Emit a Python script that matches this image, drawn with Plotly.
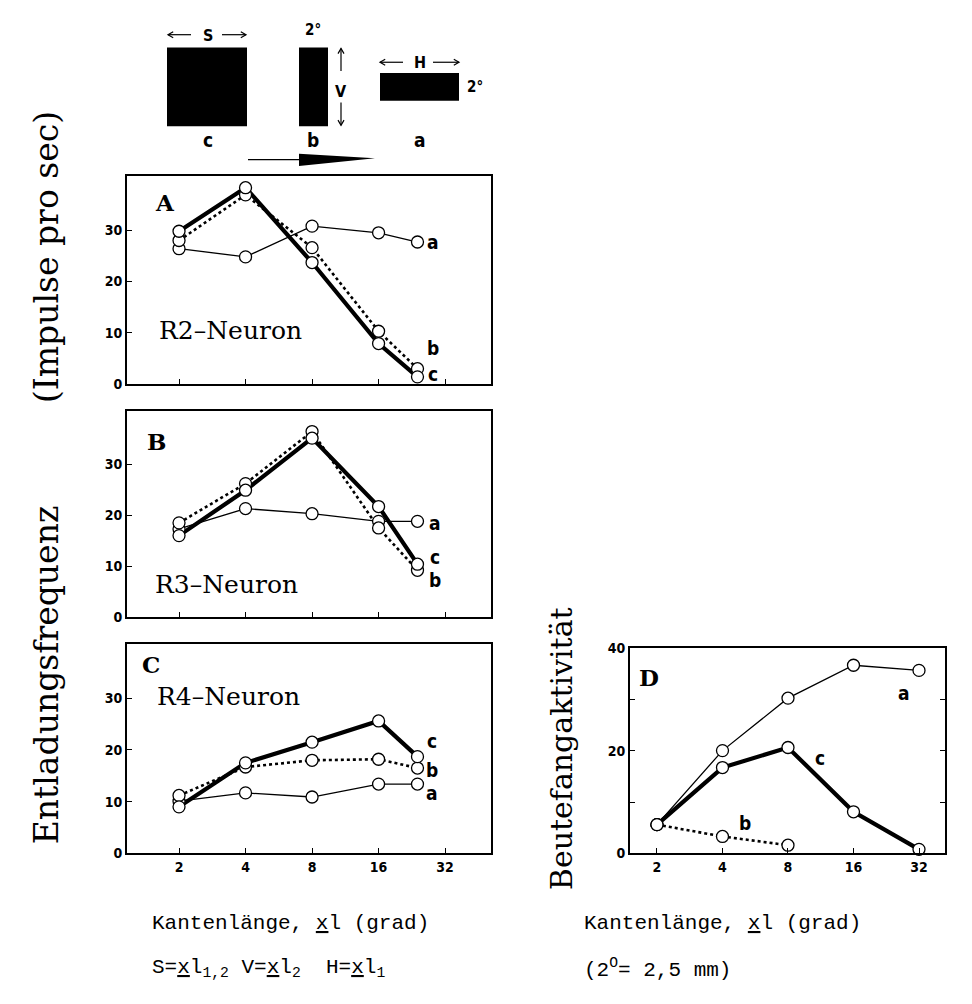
import math
import plotly.graph_objects as go

# ---------------- data ----------------
x_neuron = [2, 4, 8, 16, 24]
A_a = [26.4, 24.8, 30.8, 29.5, 27.7]
A_b = [28.0, 36.9, 26.6, 10.3, 3.0]
A_c = [29.8, 38.3, 23.7, 7.9, 1.4]

B_a = [17.3, 21.3, 20.3, 18.8, 18.8]
B_b = [18.5, 26.2, 36.4, 17.5, 9.2]
B_c = [16.0, 24.9, 35.1, 21.7, 10.4]

C_a = [10.1, 11.7, 10.9, 13.4, 13.4]
C_b = [11.2, 16.7, 18.0, 18.2, 16.5]
C_c = [9.0, 17.5, 21.5, 25.6, 18.7]

x_D = [2, 4, 8, 16, 32]
D_a = [5.6, 20.0, 30.2, 36.6, 35.6]
D_c = [5.6, 16.7, 20.6, 8.1, 0.8]
xb_D = [2, 4, 8]
D_b = [5.6, 3.3, 1.6]

x_ticks = [2, 4, 8, 16, 32]
x_ticktext = ["2", "4", "8", "16", "32"]
y_ticks_neuron = [0, 10, 20, 30]
y_ticks_D = [0, 20, 40]

W, H = 972, 1004


def px(x):
    return x / W


def py(y):
    return 1 - y / H


LBL = "DejaVu Sans Condensed, Liberation Sans Narrow, Arial Narrow, sans-serif"
TICKFONT = dict(family=LBL, size=14, color="black", weight="bold")
SERIF = "DejaVu Serif, Liberation Serif, serif"
MONO = "Liberation Mono, Courier New, monospace"

fig = go.Figure()

panels = [
    ("x", "y", x_neuron, (A_a, A_b, A_c)),
    ("x2", "y2", x_neuron, (B_a, B_b, B_c)),
    ("x3", "y3", x_neuron, (C_a, C_b, C_c)),
]

styles = {
    "a": dict(width=1.3, dash="solid"),
    "b": dict(width=2.6, dash="dot"),
    "c": dict(width=4.2, dash="solid"),
}
marker = dict(symbol="circle", size=12, color="white", line=dict(color="black", width=1.3))

for xa, ya, xs, (sa, sb, sc) in panels:
    for key, ser in zip("abc", (sa, sb, sc)):
        fig.add_trace(go.Scatter(x=xs, y=ser, xaxis=xa, yaxis=ya, mode="lines",
                                 line=dict(color="black", **styles[key]), showlegend=False,
                                 hoverinfo="skip"))
    for ser in (sa, sb, sc):
        fig.add_trace(go.Scatter(x=xs, y=ser, xaxis=xa, yaxis=ya, mode="markers",
                                 marker=marker, showlegend=False))

# panel D
fig.add_trace(go.Scatter(x=x_D, y=D_a, xaxis="x4", yaxis="y4", mode="lines",
                         line=dict(color="black", **styles["a"]), showlegend=False))
fig.add_trace(go.Scatter(x=xb_D, y=D_b, xaxis="x4", yaxis="y4", mode="lines",
                         line=dict(color="black", **styles["b"]), showlegend=False))
fig.add_trace(go.Scatter(x=x_D, y=D_c, xaxis="x4", yaxis="y4", mode="lines",
                         line=dict(color="black", **styles["c"]), showlegend=False))
for xs, ser in ((x_D, D_a), (xb_D, D_b), (x_D, D_c)):
    fig.add_trace(go.Scatter(x=xs, y=ser, xaxis="x4", yaxis="y4", mode="markers",
                             marker=marker, showlegend=False, cliponaxis=False))

# ---------------- axes ----------------
L2 = math.log10(2)


def xaxis(domain, lo2, hi2, labels, anchor):
    return dict(type="log", domain=domain, range=[lo2 * L2, hi2 * L2], anchor=anchor,
                tickvals=x_ticks, ticktext=x_ticktext, showticklabels=labels,
                ticks="inside", ticklen=5, tickwidth=1, tickcolor="black",
                showline=True, linecolor="black", linewidth=2, mirror=True,
                showgrid=False, zeroline=False, tickfont=TICKFONT)


def yaxis(domain, rng, tickvals, anchor, mirror, minor=None):
    d = dict(domain=domain, range=rng, anchor=anchor, tickvals=tickvals,
             ticks="inside", ticklen=5, tickwidth=1, tickcolor="black",
             showline=True, linecolor="black", linewidth=2, mirror=mirror,
             showgrid=False, zeroline=False, tickfont=TICKFONT)
    if minor:
        d["minor"] = minor
    return d


xdomL = [px(119), px(483)]
fig.update_layout(
    xaxis=xaxis(xdomL, 0.218, 5.69, False, "y"),
    yaxis=yaxis([py(374), py(163)], [0, 40.5], y_ticks_neuron, "x", True),
    xaxis2=xaxis(xdomL, 0.218, 5.69, False, "y2"),
    yaxis2=yaxis([py(611), py(401)], [0, 40.5], y_ticks_neuron, "x2", True),
    xaxis3=xaxis(xdomL, 0.218, 5.69, True, "y3"),
    yaxis3=yaxis([py(851), py(638)], [0, 40.5], y_ticks_neuron, "x3", True),
    xaxis4=xaxis([px(622), px(937)], 0.588, 5.397, True, "y4"),
    yaxis4=yaxis([py(851), py(642)], [0, 40], y_ticks_D, "x4", "allticks",
                 minor=dict(dtick=10, ticks="inside", ticklen=5, tickwidth=1, tickcolor="black")),
)

ann = []


def text(x, y, s, size, family, weight="normal", xanchor="center", angle=0):
    ann.append(dict(x=px(x), y=py(y), xref="paper", yref="paper", text=s, showarrow=False,
                    xanchor=xanchor, yanchor="middle", textangle=angle,
                    font=dict(size=size, family=family, color="black", weight=weight)))


# series labels
for (x, y, s) in [(425, 230, "a"), (425, 337, "b"), (425, 364, "c"),
                  (427, 515, "a"), (427, 550, "c"), (427, 573, "b"),
                  (424, 737, "c"), (424, 766, "b"), (424, 790, "a"),
                  (896, 688, "a"), (812, 754, "c"), (737, 820, "b")]:
    text(x, y, s, 19, LBL, "bold")

# panel letters
for (x, y, s) in [(157, 190, "A"), (148, 432, "B"), (143, 659, "C"), (641, 672, "D")]:
    text(x, y, s, 23, SERIF, "bold")

# neuron names
for (x, y, s) in [(222, 320, "R2\u2013Neuron"), (218, 578, "R3\u2013Neuron"), (220, 692, "R4\u2013Neuron")]:
    text(x, y, s, 25, SERIF)

# axis titles
text(38, 670, "Entladungsfrequenz", 33, SERIF, angle=-90)
text(38, 245, "(Impulse pro sec)", 33, SERIF, angle=-90)
text(553, 745, "Beutefangaktivit\u00e4t", 30, SERIF, angle=-90)

text(142, 922, "Kantenl\u00e4nge, <u>x</u>l (grad)", 21, MONO, xanchor="left")
text(142, 968, "S=<u>x</u>l<sub>1,2</sub> V=<u>x</u>l<sub>2</sub>  H=<u>x</u>l<sub>1</sub>", 21, MONO, xanchor="left")
text(574, 922, "Kantenl\u00e4nge, <u>x</u>l (grad)", 21, MONO, xanchor="left")
text(574, 968, "(2<sup>O</sup>= 2,5 mm)", 21, MONO, xanchor="left")

# ---------------- stimulus pictogram ----------------
text(200, 20, "S", 16, LBL, "bold")
text(305, 14, "2\u00b0", 15, LBL, "bold")
text(333, 77, "V", 16, LBL, "bold")
text(412, 47, "H", 16, LBL, "bold")
text(467, 72, "2\u00b0", 15, LBL, "bold")
text(200, 126, "c", 19, LBL, "bold")
text(305, 126, "b", 19, LBL, "bold")
text(412, 126, "a", 19, LBL, "bold")

shapes = []


def arrow(x0, y0, x1, y1, head=6):
    shapes.append(dict(type="line", xref="paper", yref="paper", x0=px(x0), y0=py(y0),
                       x1=px(x1), y1=py(y1), line=dict(color="black", width=1.2)))
    ang = math.atan2(y1 - y0, x1 - x0)
    pts = []
    for da in (math.radians(150), math.radians(-150)):
        pts.append((x1 + head * math.cos(ang + da), y1 + head * math.sin(ang + da)))
    path = (f"M {px(pts[0][0])} {py(pts[0][1])} L {px(x1)} {py(y1)} "
            f"L {px(pts[1][0])} {py(pts[1][1])}")
    shapes.append(dict(type="path", xref="paper", yref="paper", path=path,
                       line=dict(color="black", width=1.2)))


arrow(183, 19, 160, 19)
arrow(214, 19, 238, 19)
arrow(395, 47, 372, 47)
arrow(425, 47, 451, 47)
arrow(333, 56, 333, 33)
arrow(333, 88, 333, 111)


def rect(x0, y0, x1, y1):
    shapes.append(dict(type="rect", xref="paper", yref="paper", x0=px(x0), x1=px(x1),
                       y0=py(y1), y1=py(y0), fillcolor="black", line=dict(width=0)))


rect(159, 32, 239, 112)
rect(291, 32, 320, 112)
rect(372, 58, 451, 86)
shapes.append(dict(type="line", xref="paper", yref="paper", x0=px(240), y0=py(146),
                   x1=px(292), y1=py(146), line=dict(color="black", width=1.2)))
shapes.append(dict(type="path", xref="paper", yref="paper",
                   path=f"M {px(291)} {py(140)} L {px(367)} {py(144.5)} L {px(291)} {py(152.5)} Z",
                   fillcolor="black", line=dict(width=0)))

fig.update_layout(width=W, height=H, margin=dict(l=0, r=0, t=0, b=0),
                  paper_bgcolor="white", plot_bgcolor="white",
                  annotations=ann, shapes=shapes, showlegend=False)

fig.write_html("out.html")
